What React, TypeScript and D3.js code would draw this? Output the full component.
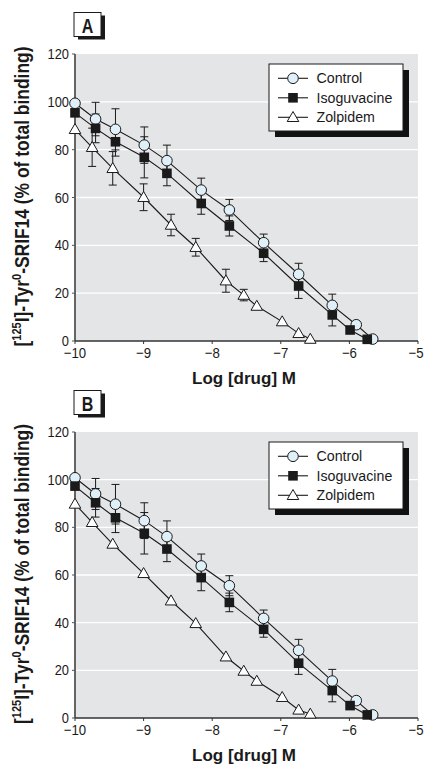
import React from "react";
import * as d3 from "d3";

const xTicks = [-10, -9, -8, -7, -6, -5];
const yTicks = [0, 20, 40, 60, 80, 100, 120];
const seriesNames = ["Control", "Isoguvacine", "Zolpidem"];

const controlX = [-10, -9.7, -9.41, -8.99, -8.66, -8.16, -7.75, -7.25, -6.74, -6.25, -5.9, -5.66];
const isoX = [-10, -9.7, -9.41, -8.99, -8.66, -8.16, -7.75, -7.25, -6.74, -6.25, -5.99, -5.74];
const zolX = [-10, -9.75, -9.45, -9.0, -8.6, -8.24, -7.8, -7.54, -7.35, -6.98, -6.74, -6.57];

const controlA = [99.4, 92.8, 88.5, 81.9, 75.4, 63.1, 54.8, 41.1, 27.9, 14.9, 6.8, 0.8];
const controlAErr = [0, 7, 8.6, 7.6, 6.5, 5, 4.4, 3.6, 4.6, 4.7, 0, 0];
const isoA = [95.4, 88.9, 83.3, 76.8, 70.1, 57.5, 48.1, 36.7, 23.0, 10.9, 4.6, 0.7];
const isoAErr = [0, 6, 6, 8.6, 5.2, 4.5, 4.2, 3.5, 5.2, 4.6, 0, 0];
const zolA = [88.5, 81.0, 72.2, 60.1, 48.5, 39.2, 25.2, 19.2, 14.6, 8.1, 3.2, 0.8];
const zolAErr = [0, 8, 7, 5.6, 4.5, 3.7, 4.8, 2.4, 0, 0, 0, 0];

const controlB = [100.8, 94.0, 89.7, 82.8, 76.1, 63.8, 55.5, 41.8, 28.4, 15.5, 7.3, 1.3];
const controlBErr = [0, 6.5, 8.3, 7.5, 6.6, 5, 4.2, 3.5, 4.6, 4.9, 0, 0];
const isoB = [97.3, 90.3, 84.0, 77.5, 70.9, 58.9, 48.5, 37.2, 23.0, 11.5, 5.2, 1.3];
const isoBErr = [0, 6, 6.2, 8.7, 5.3, 5.5, 3.9, 3.3, 4.7, 4.7, 0, 0];
const zolB = [89.8, 82.1, 73.0, 60.7, 49.2, 39.7, 25.7, 19.7, 15.5, 8.7, 3.4, 1.7];
const zolBErr = [0, 0, 0, 0, 0, 0, 0, 0, 0, 0, 0, 0];

const FONT = "'Liberation Sans', Arial, Helvetica, sans-serif";
const BG = "#e4e5e7";
const CIRCLE_FILL = "#dff0f8";
const INK = "#1a1a1a";

type Series = { xs: number[]; ys: number[]; err: number[]; kind: "circle" | "square" | "triangle" };

function CT({
  x,
  y,
  sx,
  anchor = "start",
  size,
  bold = false,
  rotate = 0,
  children,
}: {
  x: number;
  y: number;
  sx: number;
  anchor?: string;
  size: number;
  bold?: boolean;
  rotate?: number;
  children: React.ReactNode;
}) {
  return (
    <text
      transform={`translate(${x},${y}) rotate(${rotate}) scale(${sx},1)`}
      textAnchor={anchor}
      fontSize={size}
      fontWeight={bold ? "bold" : "normal"}
      fill={INK}
    >
      {children}
    </text>
  );
}

function Marker({ kind, cx, cy }: { kind: string; cx: number; cy: number }) {
  if (kind === "circle") return <circle cx={cx} cy={cy} r={5.3} fill={CIRCLE_FILL} stroke={INK} strokeWidth={1} />;
  if (kind === "square") return <rect x={cx - 4.8} y={cy - 4.8} width={9.6} height={9.6} fill={INK} />;
  return (
    <path
      d={`M${cx},${cy - 5.8} L${cx + 5.8},${cy + 4.2} L${cx - 5.8},${cy + 4.2} Z`}
      fill="#ffffff"
      stroke={INK}
      strokeWidth={1}
    />
  );
}

function Panel({ top, bottom, letter, series }: { top: number; bottom: number; letter: string; series: Series[] }) {
  const left = 75;
  const right = 418;
  const x = d3.scaleLinear().domain([-10, -5]).range([left, right]);
  const y = d3.scaleLinear().domain([0, 120]).range([bottom, top]);
  const line = d3
    .line<[number, number]>()
    .x((d) => x(d[0]))
    .y((d) => y(d[1]));
  const legX = 269;
  const legY = top + 10;
  const legW = 134;
  const legH = 67;
  const yMid = (top + bottom) / 2 - 1;
  return (
    <g fontFamily={FONT}>
      {/* letter box */}
      <rect x={left + 3} y={top - 38.5} width={27} height={24} fill="#1a1a1a" />
      <rect x={left - 1} y={top - 41.5} width={27} height={24} fill="#fff" stroke={INK} strokeWidth={1} />
      <CT x={left + 12.5} y={top - 21.5} sx={0.8} anchor="middle" size={20} bold>
        {letter}
      </CT>
      <rect x={left} y={top} width={right - left} height={bottom - top} fill={BG} />
      {yTicks.filter((t) => t > 0 && t < 120).map((t) => (
        <line key={t} x1={left} x2={right} y1={y(t)} y2={y(t)} stroke="#fff" strokeWidth={1.4} />
      ))}
      {/* axes */}
      <line x1={left} x2={left} y1={top} y2={bottom} stroke="#555" strokeWidth={1.8} />
      <line x1={left} x2={right} y1={bottom} y2={bottom} stroke="#333" strokeWidth={1.5} />
      {yTicks.map((t) => (
        <g key={t}>
          <line x1={left - 3} x2={left} y1={y(t)} y2={y(t)} stroke="#555" strokeWidth={1} />
          <CT x={left - 6} y={y(t) + 5} sx={0.86} anchor="end" size={15}>
            {t}
          </CT>
        </g>
      ))}
      {xTicks.map((t, i) => (
        <g key={t}>
          <line x1={x(t)} x2={x(t)} y1={bottom} y2={bottom + 3} stroke="#333" strokeWidth={1} />
          <CT
            x={i === xTicks.length - 1 ? 423.5 : x(t)}
            y={bottom + 17}
            sx={0.88}
            anchor={i === xTicks.length - 1 ? "end" : "middle"}
            size={15}
          >
            {"\u2212" + Math.abs(t)}
          </CT>
        </g>
      ))}
      <CT x={244} y={bottom + 43} sx={1} anchor="middle" size={17} bold>
        Log [drug] M
      </CT>
      <CT x={28.6} y={yMid} sx={0.85} rotate={-90} anchor="middle" size={20.5} bold>
        [<tspan fontSize={13} dy={-8}>125</tspan>
        <tspan dy={8}>I]-Tyr</tspan>
        <tspan fontSize={13} dy={-8}>0</tspan>
        <tspan dy={8}>-SRIF14 (% of total binding)</tspan>
      </CT>
      {/* error bars */}
      {series.map((s, si) =>
        s.ys.map((v, i) =>
          s.err[i] > 0 ? (
            <g key={`e${si}-${i}`} stroke={INK} strokeWidth={1}>
              <line x1={x(s.xs[i])} x2={x(s.xs[i])} y1={y(v - s.err[i])} y2={y(v + s.err[i])} />
              <line x1={x(s.xs[i]) - 4} x2={x(s.xs[i]) + 4} y1={y(v - s.err[i])} y2={y(v - s.err[i])} />
              <line x1={x(s.xs[i]) - 4} x2={x(s.xs[i]) + 4} y1={y(v + s.err[i])} y2={y(v + s.err[i])} />
            </g>
          ) : null
        )
      )}
      {series.map((s, si) => (
        <path
          key={`l${si}`}
          d={line(s.xs.map((xv, i) => [xv, s.ys[i]] as [number, number])) || ""}
          fill="none"
          stroke={INK}
          strokeWidth={1.1}
        />
      ))}
      {series.map((s, si) =>
        s.ys.map((v, i) => <Marker key={`m${si}-${i}`} kind={s.kind} cx={x(s.xs[i])} cy={y(v)} />)
      )}
      {/* legend */}
      <rect x={legX + 6} y={legY + 6} width={legW} height={legH} fill="#111" />
      <rect x={legX} y={legY} width={legW} height={legH} fill="#fff" stroke={INK} strokeWidth={1} />
      {seriesNames.map((n, i) => {
        const ry = legY + 14.3 + i * 19.5;
        return (
          <g key={n}>
            <line x1={legX + 9} x2={legX + 39} y1={ry} y2={ry} stroke={INK} strokeWidth={1.1} />
            <Marker kind={series[i].kind} cx={legX + 24} cy={ry} />
            <CT x={legX + 47.5} y={ry + 5} sx={0.98} size={14.5}>
              {n}
            </CT>
          </g>
        );
      })}
    </g>
  );
}

export default function App() {
  const seriesA: Series[] = [
    { xs: controlX, ys: controlA, err: controlAErr, kind: "circle" },
    { xs: isoX, ys: isoA, err: isoAErr, kind: "square" },
    { xs: zolX, ys: zolA, err: zolAErr, kind: "triangle" },
  ];
  const seriesB: Series[] = [
    { xs: controlX, ys: controlB, err: controlBErr, kind: "circle" },
    { xs: isoX, ys: isoB, err: isoBErr, kind: "square" },
    { xs: zolX, ys: zolB, err: zolBErr, kind: "triangle" },
  ];
  return (
    <svg
      width={424}
      height={767}
      viewBox="0 0 424 767"
      style={{ position: "absolute", left: 0, top: 0, background: "#fff" }}
    >
      <Panel top={54} bottom={341} letter="A" series={seriesA} />
      <Panel top={432} bottom={718} letter="B" series={seriesB} />
    </svg>
  );
}
